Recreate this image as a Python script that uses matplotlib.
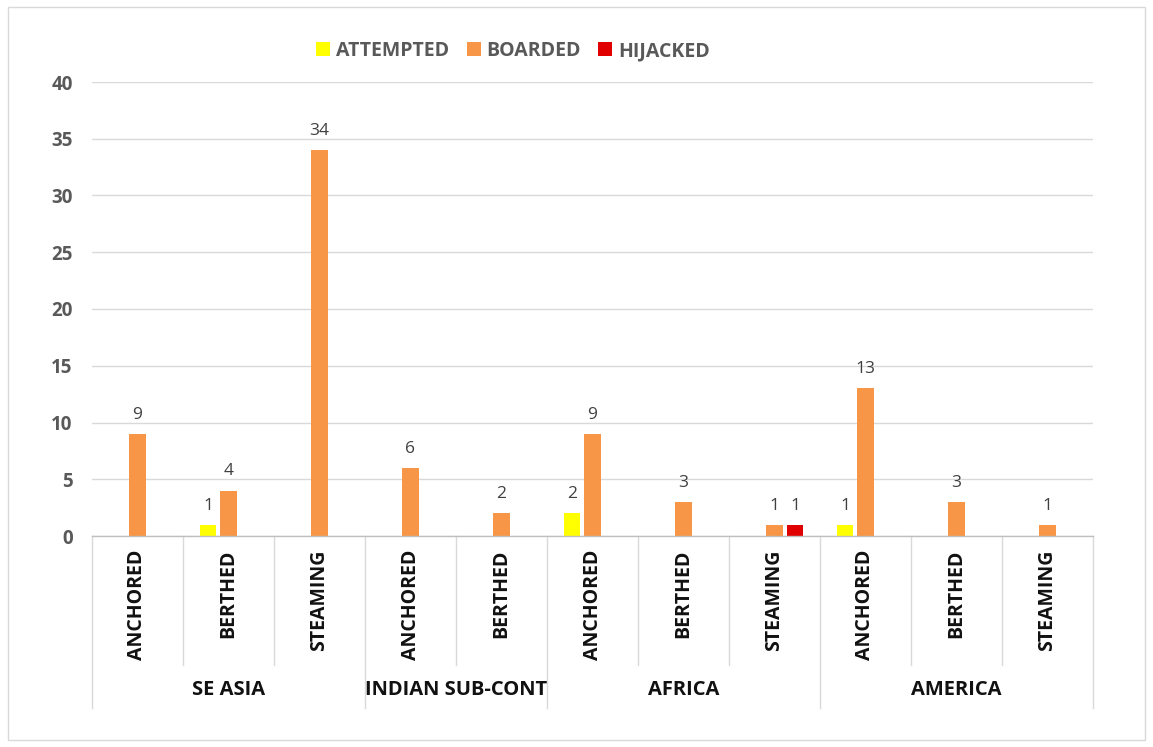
import matplotlib
matplotlib.use("Agg")
import matplotlib.pyplot as plt
from matplotlib.patches import Rectangle
import numpy as np

plt.rcParams['font.family'] = ['Open Sans', 'DejaVu Sans']

categories = ["ANCHORED", "BERTHED", "STEAMING",
              "ANCHORED", "BERTHED",
              "ANCHORED", "BERTHED", "STEAMING",
              "ANCHORED", "BERTHED", "STEAMING"]
groups = ["SE ASIA", "INDIAN SUB-CONT", "AFRICA", "AMERICA"]
group_sizes = [3, 2, 3, 3]

attempted = [0, 1, 0, 0, 0, 2, 0, 0, 1, 0, 0]
boarded = [9, 4, 34, 6, 2, 9, 3, 1, 13, 3, 1]
hijacked = [0, 0, 0, 0, 0, 0, 0, 1, 0, 0, 0]

series_names = ["ATTEMPTED", "BOARDED", "HIJACKED"]
colors = ["#FFFF00", "#F79646", "#E00000"]
yticks = [0, 5, 10, 15, 20, 25, 30, 35, 40]

fig = plt.figure(figsize=(11.53, 7.47), dpi=100)
fig.patches.append(Rectangle((8/1153, 7/747), 1137/1153, 733/747,
                             transform=fig.transFigure, fill=False,
                             edgecolor="#D9D9D9", linewidth=1))
ax = fig.add_axes([92/1153, 1 - 536/747, (1093 - 92)/1153, (536 - 82)/747])

n = len(categories)
x = np.arange(n)
width = 0.18
offset = 0.225
label_color = "#404040"
tick_color = "#595959"

for i, (vals, name, c) in enumerate(zip([attempted, boarded, hijacked], series_names, colors)):
    xs = x + (i - 1) * offset
    ax.bar(xs, vals, width=width, color=c, label=name, zorder=3)
    for xi, v in zip(xs, vals):
        if v:
            ax.annotate(str(v), (xi, v), xytext=(0, 8), textcoords="offset points",
                        ha="center", va="bottom", fontsize=12.5, color=label_color)

ax.set_xlim(-0.5, n - 0.5)
ax.set_ylim(0, 40)
ax.set_yticks(yticks)
ax.set_yticklabels([str(t) for t in yticks], fontsize=13.5, fontweight="bold", color=tick_color)
ax.tick_params(axis="y", length=0, pad=14)
ax.set_xticks([])
ax.grid(axis="y", color="#D9D9D9", linewidth=1, zorder=0)
for s in ["top", "right", "left"]:
    ax.spines[s].set_visible(False)
ax.spines["bottom"].set_color("#BFBFBF")
ax.spines["bottom"].set_linewidth(1)
ax.spines["bottom"].set_zorder(4)

trans = ax.get_xaxis_transform()
inner_bottom = -(665 - 536) / 454
outer_bottom = -(708 - 536) / 454

# category labels
for xi, cat in zip(x, categories):
    ax.text(xi, -(550 - 536) / 454, cat, transform=trans, rotation=90,
            ha="center", va="top", fontsize=14, fontweight="bold", color="#111111")

# separators
boundaries = set(np.cumsum([0] + group_sizes).tolist())
for b in range(n + 1):
    yb = outer_bottom if b in boundaries else inner_bottom
    ax.plot([b - 0.5, b - 0.5], [0, yb], transform=trans, color="#D9D9D9",
            linewidth=1, clip_on=False)

# group labels
start = 0
for g, sz in zip(groups, group_sizes):
    center = start + (sz - 1) / 2
    ax.text(center, -(690 - 536) / 454, g, transform=trans, ha="center", va="center",
            fontsize=14.5, fontweight="bold", color="#111111")
    start += sz

leg = fig.legend(loc="center", bbox_to_anchor=(513 / 1153, 1 - 51 / 747), ncol=3,
                 frameon=False, handlelength=0.72, handleheight=0.72, handletextpad=0.3,
                 columnspacing=0.9, prop={"size": 14, "weight": "bold"})
for t in leg.get_texts():
    t.set_color(tick_color)

fig.savefig("out.png", dpi=100, facecolor="white")
